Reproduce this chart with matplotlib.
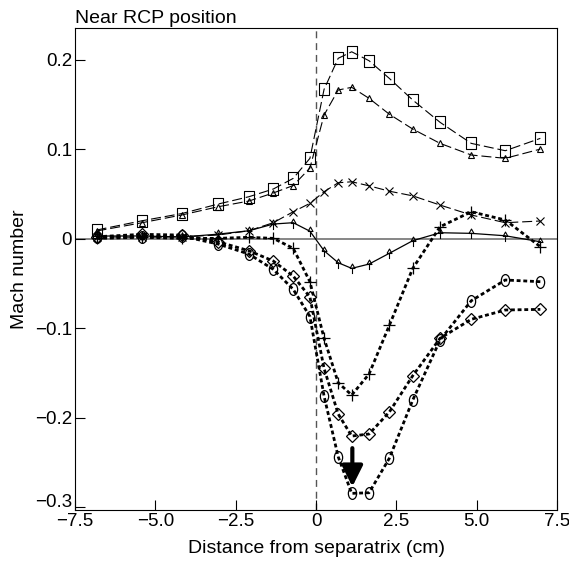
import matplotlib
matplotlib.use('Agg')
import matplotlib.pyplot as plt
from matplotlib.path import Path
from matplotlib.transforms import Affine2D, ScaledTranslation

plt.rcParams['font.family'] = ['Liberation Sans', 'DejaVu Sans']

# distance from separatrix (cm), shared by all probe series
x_pos = [-6.83, -5.41, -4.18, -3.05, -2.09, -1.33, -0.71, -0.19, 0.25, 0.69,
         1.11, 1.65, 2.28, 3.01, 3.86, 4.83, 5.89, 6.98]

mach_square = [0.0096, 0.020, 0.028, 0.0386, 0.0468, 0.0554, 0.0673, 0.0897, 0.1667, 0.2014,
               0.2087, 0.1987, 0.179, 0.1548, 0.1299, 0.1064, 0.0982, 0.112]
mach_triangle = [0.0085, 0.0178, 0.0264, 0.0356, 0.042, 0.051, 0.0593, 0.0788, 0.138, 0.166,
                 0.169, 0.1567, 0.139, 0.1224, 0.1064, 0.0934, 0.0897, 0.100]
mach_cross = [0.002, 0.0015, 0.0021, 0.004, 0.0088, 0.0178, 0.030, 0.0394, 0.0524, 0.0624,
              0.0635, 0.0590, 0.0530, 0.0478, 0.0375, 0.0264, 0.0178, 0.0197]
mach_stem = [0.0029, 0.003, 0.0018, 0.005, 0.0088, 0.0163, 0.0178, 0.0083, -0.0135, -0.0269,
             -0.0332, -0.0284, -0.0164, -0.0023, 0.0066, 0.0059, 0.0032, -0.0035]
mach_plus = [0.0003, 0.0015, 0.0003, 0.0003, 0.0015, 0.0003, -0.0108, -0.0481, -0.1113, -0.1609,
             -0.1747, -0.1512, -0.097, -0.0332, 0.0133, 0.030, 0.0208, -0.009]
mach_diamond = [0.0021, 0.0048, 0.004, -0.0035, -0.0135, -0.025, -0.0418, -0.0652, -0.1449, -0.1959,
                -0.2205, -0.2182, -0.1937, -0.1531, -0.1113, -0.0901, -0.0797, -0.079]
mach_circle = [0.0015, 0.0021, 0.0029, -0.006, -0.0172, -0.0343, -0.0566, -0.087, -0.1758, -0.2436,
               -0.2845, -0.2838, -0.2454, -0.1803, -0.1132, -0.0694, -0.0462, -0.0481]

xticks = [-7.5, -5.0, -2.5, 0, 2.5, 5.0, 7.5]
xticklabels = ['\u22127.5', '\u22125.0', '\u22122.5', '0', '2.5', '5.0', '7.5']
yticks = [0.2, 0.1, 0, -0.1, -0.2, -0.3]
yticklabels = ['0.2', '0.1', '0', '\u22120.1', '\u22120.2', '\u22120.3']

# small triangle with a stem below, used for the thin solid curve
stem_marker = Path([(-0.45, 0.0), (0.0, 0.8), (0.45, 0.0), (-0.45, 0.0), (0.0, 0.0), (0.0, -1.0)],
                   [Path.MOVETO, Path.LINETO, Path.LINETO, Path.LINETO, Path.MOVETO, Path.LINETO])
# tall ellipse-ish circle marker
ellipse_marker = Path.unit_circle().transformed(Affine2D().scale(0.7, 1.0))
# squares in the original are a bit taller than wide
rect_marker = Path.unit_rectangle().transformed(Affine2D().translate(-0.5, -0.5).scale(0.85, 1.0))

fig = plt.figure(figsize=(5.69, 5.63), dpi=100)
ax = fig.add_axes([0.1318, 0.0941, 0.979 - 0.1318, 0.9497 - 0.0941])

ax.axhline(0, color='#666666', lw=1.1, zorder=1)
ax.axvline(0, color='#555555', lw=1.0, dashes=(5, 3.5), zorder=1)

long_dash = dict(color='black', lw=0.8, dashes=(9, 3.5), mfc='none', mec='black', mew=0.8)
ax.plot(x_pos, mach_square, marker=rect_marker, ms=8, **long_dash)
ax.plot(x_pos, mach_triangle, marker='^', ms=5, **long_dash)
ax.plot(x_pos, mach_cross, marker='x', ms=5.5, **long_dash)
ax.plot(x_pos, mach_stem, marker=stem_marker, ms=8, color='black', lw=0.9, mfc='none', mec='black', mew=0.8)

dotted = dict(color='black', lw=2.0, dashes=(1.4, 1.0), mfc='none', mec='black', mew=0.9)
ax.plot(x_pos, mach_plus, marker='+', ms=9, **dotted)
ax.plot(x_pos, mach_diamond, marker='D', ms=6, **dotted)
ax.plot(x_pos, mach_circle, marker=ellipse_marker, ms=8.5, **dotted)

ax.annotate('', xy=(1.13, -0.277), xytext=(1.13, -0.234),
            arrowprops=dict(arrowstyle='-|>,head_length=0.7,head_width=0.35', lw=3, color='black',
                            mutation_scale=18, shrinkA=0, shrinkB=0))

ax.set_xlim(-7.5, 7.5)
ax.set_ylim(-0.3031, 0.2349)
ax.set_xticks(xticks)
ax.set_xticklabels(xticklabels)
ax.set_yticks(yticks)
ax.set_yticklabels(yticklabels)
ax.tick_params(direction='in', length=7, width=0.8, labelsize=13.5, pad=2)
for s in ax.spines.values():
    s.set_linewidth(0.8)

# lift the lowest y label a little so it clears the first x label
low_label = ax.get_yticklabels()[-1]
low_label.set_transform(low_label.get_transform() + ScaledTranslation(0, 5 / 72, fig.dpi_scale_trans))

ax.set_xlabel('Distance from separatrix (cm)', fontsize=14, labelpad=7)
ax.set_ylabel('Mach number', fontsize=14, labelpad=5)
ax.set_title('Near RCP position', fontsize=14, loc='left', pad=4)

fig.savefig('out.png', dpi=100)
